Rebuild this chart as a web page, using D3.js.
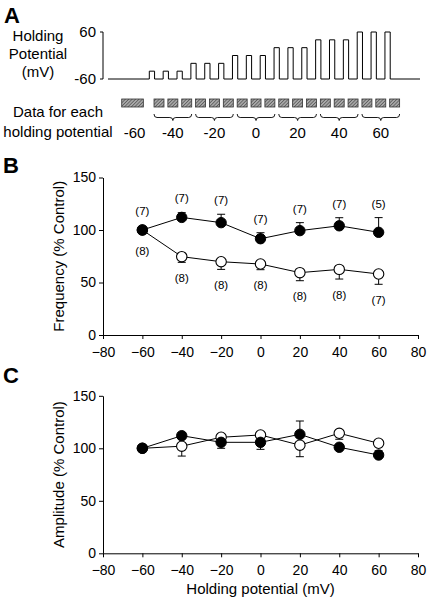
<!DOCTYPE html>
<html>
<head>
<meta charset="utf-8">
<script src="https://cdn.jsdelivr.net/npm/d3@7"></script>
<style>
  html, body { margin: 0; padding: 0; background: #fff; }
  svg { display: block; }
  text { font-family: "Liberation Sans", Arial, Helvetica, sans-serif; fill: #000; }
</style>
</head>
<body>
<svg id="chart" width="430" height="599"></svg>
<script>
// ---------------- DATA ----------------
const potentials = [-60, -40, -20, 0, 20, 40, 60];
const xTicks = [-80, -60, -40, -20, 0, 20, 40, 60, 80];
const yTicks = [0, 50, 100, 150];

// Panel A: protocol
const protocolTicks = [-60, 60];
const pulseLevels = [-40, -40, -40, -20, -20, -20, 0, 0, 0, 20, 20, 20, 40, 40, 40, 60, 60, 60];
const groupLabels = ["-60", "-40", "-20", "0", "20", "40", "60"];

// Panel B: frequency (% control)
const freqFilled = [100, 112, 107, 91.7, 99.4, 104, 97.8];
const freqFilledErr = [0, 4.5, 8, 5.7, 7.6, 7.7, 14];
const freqOpen = [100, 74.6, 69.8, 67.6, 59.4, 62.5, 58.1];
const freqOpenErr = [0, -5.4, -7.3, -5.4, -7.7, -9.2, -9.8];
const nFilled = [7, 7, 7, 7, 7, 7, 5];
const nOpen = [8, 8, 8, 8, 8, 8, 7];

// Panel C: amplitude (% control)
const ampFilled = [100, 112, 105.7, 105.7, 113.3, 101, 93.6];
const ampFilledErr = [0, 3, -5.7, -6.7, 12.7, 0, 4.1];
const ampOpen = [100, 102, 110.5, 112.7, 103, 114.3, 104.8];
const ampOpenErr = [0, -9.4, 0, 0, -11, -5.7, 0];

// ---------------- DRAW ----------------
const svg = d3.select("#chart");
const R = 5.2;

// panel letters
[["A", 4, 23], ["B", 3, 173], ["C", 3, 383]].forEach(([t, x, y]) => {
  svg.append("text").attr("x", x).attr("y", y)
    .style("font-size", "22px").style("font-weight", "bold").text(t);
});

// ===== Panel A =====
const yA = d3.scaleLinear().domain([-60, 60]).range([79, 32]);
const tA = d3.scaleLinear().domain([0, 18]).range([149.3, 398.8]);
const traceStart = -2.98, traceEnd = 19.53, pulseW = 0.38;

// label
const holdLines = ["Holding", "Potential", "(mV)"];
svg.append("g").selectAll("text").data(holdLines).join("text")
  .attr("x", 38).attr("y", (d, i) => 41 + i * 18)
  .attr("text-anchor", "middle").style("font-size", "15px").text(d => d);

// bracket axis
const gA = svg.append("g");
gA.append("path")
  .attr("d", `M${100},${yA(60)}H103V${yA(-60)}H100`)
  .attr("fill", "none").attr("stroke", "#000").attr("stroke-width", 1);
gA.selectAll("text.tk").data(protocolTicks).join("text")
  .attr("x", 96).attr("y", d => yA(d)).attr("dy", "0.35em")
  .attr("text-anchor", "end").style("font-size", "15px").text(d => d);

// trace
const tracePts = [[traceStart, -60]];
pulseLevels.forEach((lv, i) => {
  tracePts.push([i, -60], [i, lv], [i + pulseW, lv], [i + pulseW, -60]);
});
tracePts.push([traceEnd, -60]);
svg.append("path")
  .attr("d", d3.line().x(d => tA(d[0])).y(d => yA(d[1]))(tracePts))
  .attr("fill", "none").attr("stroke", "#000").attr("stroke-width", 1);

// data label
svg.append("g").selectAll("text").data(["Data for each", "holding potential"]).join("text")
  .attr("x", 58).attr("y", (d, i) => 117 + i * 20)
  .attr("text-anchor", "middle").style("font-size", "15px").text(d => d);

// hatch pattern
const defs = svg.append("defs");
const pat = defs.append("pattern").attr("id", "hatch").attr("patternUnits", "userSpaceOnUse")
  .attr("width", 2.4).attr("height", 2.4).attr("patternTransform", "rotate(45)");
pat.append("rect").attr("width", 2.4).attr("height", 2.4).attr("fill", "#a8a8a8");
pat.append("line").attr("x1", 0).attr("y1", 0).attr("x2", 0).attr("y2", 2.4)
  .attr("stroke", "#3a3a3a").attr("stroke-width", 1.1);

const boxTop = 99, boxH = 8;
// control box (-60)
svg.append("rect").attr("x", tA(-1.99)).attr("y", boxTop)
  .attr("width", tA(-0.43) - tA(-1.99)).attr("height", boxH)
  .attr("fill", "url(#hatch)").attr("stroke", "#333").attr("stroke-width", 0.8);
// boxes after each pulse
svg.append("g").selectAll("rect").data(pulseLevels).join("rect")
  .attr("x", (d, i) => tA(i + 0.34)).attr("y", boxTop)
  .attr("width", tA(0.72) - tA(0)).attr("height", boxH)
  .attr("fill", "url(#hatch)").attr("stroke", "#333").attr("stroke-width", 0.8);

// braces
const groups = d3.range(6);
function brace(x0, x1) {
  const y0 = 114, y1 = 117.5, y2 = 120.5, xm = (x0 + x1) / 2;
  return `M${x0},${y0}Q${x0},${y1} ${x0 + 3},${y1}L${xm - 3},${y1}Q${xm},${y1} ${xm},${y2}` +
         `Q${xm},${y1} ${xm + 3},${y1}L${x1 - 3},${y1}Q${x1},${y1} ${x1},${y0}`;
}
svg.append("g").selectAll("path").data(groups).join("path")
  .attr("d", g => brace(tA(3 * g + 0.34), tA(3 * g + 2 + 0.34 + 0.72)))
  .attr("fill", "none").attr("stroke", "#000").attr("stroke-width", 0.9);

// group labels
const labelX = (d, i) => i === 0 ? (tA(-1.99) + tA(-0.43)) / 2 + 2
  : (tA(3 * (i - 1) + 0.34) + tA(3 * (i - 1) + 2 + 0.34 + 0.72)) / 2;
svg.append("g").selectAll("text").data(groupLabels).join("text")
  .attr("x", labelX).attr("y", 138).attr("text-anchor", "middle")
  .style("font-size", "15px").text(d => d);

// ===== Panels B & C =====
const x = d3.scaleLinear().domain([-80, 80]).range([103, 418]);

function panel(yBottom, yTop, filled, filledErr, open, openErr, yTitle, nF, nO, xTitle) {
  const y = d3.scaleLinear().domain([0, 150]).range([yBottom, yTop]);
  const g = svg.append("g");

  const xAxis = g.append("g").attr("transform", `translate(0,${yBottom})`)
    .call(d3.axisBottom(x).tickValues(xTicks).tickSize(4).tickSizeOuter(0).tickPadding(8));
  const yAxis = g.append("g").attr("transform", `translate(103,0)`)
    .call(d3.axisLeft(y).tickValues(yTicks).tickSize(4).tickSizeOuter(0).tickPadding(3));
  [xAxis, yAxis].forEach(a => {
    a.selectAll("text").style("font-size", "14px").style("font-family", "Liberation Sans, Arial, sans-serif").attr("fill", "#000");
    a.selectAll("line,path").attr("stroke", "#000").attr("stroke-width", 1);
  });

  g.append("text").attr("transform", `translate(64,${(yBottom + yTop) / 2}) rotate(-90)`)
    .attr("text-anchor", "middle").style("font-size", "15px").text(yTitle);
  if (xTitle) {
    g.append("text").attr("x", (x(-80) + x(80)) / 2).attr("y", 594)
      .attr("text-anchor", "middle").style("font-size", "15px").text(xTitle);
  }

  const line = d3.line().x((d, i) => x(potentials[i])).y(d => y(d));
  g.append("path").attr("d", line(open)).attr("fill", "none").attr("stroke", "#000").attr("stroke-width", 1);
  g.append("path").attr("d", line(filled)).attr("fill", "none").attr("stroke", "#000").attr("stroke-width", 1);

  function errBars(vals, errs) {
    const data = vals.map((v, i) => ({ p: potentials[i], v, e: errs[i] })).filter(d => d.e !== 0);
    const eg = g.append("g").attr("stroke", "#000").attr("stroke-width", 1);
    eg.selectAll("line.v").data(data).join("line")
      .attr("x1", d => x(d.p)).attr("x2", d => x(d.p))
      .attr("y1", d => y(d.v)).attr("y2", d => y(d.v + d.e));
    eg.selectAll("line.c").data(data).join("line")
      .attr("x1", d => x(d.p) - 4).attr("x2", d => x(d.p) + 4)
      .attr("y1", d => y(d.v + d.e)).attr("y2", d => y(d.v + d.e));
  }
  errBars(open, openErr);
  errBars(filled, filledErr);

  g.append("g").selectAll("circle").data(open).join("circle")
    .attr("cx", (d, i) => x(potentials[i])).attr("cy", d => y(d)).attr("r", R)
    .attr("fill", "#fff").attr("stroke", "#000").attr("stroke-width", 1.1);
  g.append("g").selectAll("circle").data(filled).join("circle")
    .attr("cx", (d, i) => x(potentials[i])).attr("cy", d => y(d)).attr("r", R)
    .attr("fill", "#000").attr("stroke", "#000").attr("stroke-width", 1);

  if (nF) {
    g.append("g").selectAll("text").data(nF).join("text")
      .attr("x", (d, i) => x(potentials[i]))
      .attr("y", (d, i) => Math.min(y(filled[i] + filledErr[i]), y(filled[i]) - R) - 14)
      .attr("dy", "0.35em").attr("text-anchor", "middle").style("font-size", "11.5px")
      .text(d => `(${d})`);
  }
  if (nO) {
    g.append("g").selectAll("text").data(nO).join("text")
      .attr("x", (d, i) => x(potentials[i]))
      .attr("y", (d, i) => Math.max(y(open[i] + openErr[i]), y(open[i]) + R) + 15.5)
      .attr("dy", "0.35em").attr("text-anchor", "middle").style("font-size", "11.5px")
      .text(d => `(${d})`);
  }
}

panel(335, 177.5, freqFilled, freqFilledErr, freqOpen, freqOpenErr, "Frequency (% Control)", nFilled, nOpen, null);
panel(553.3, 395.8, ampFilled, ampFilledErr, ampOpen, ampOpenErr, "Amplitude (% Control)", null, null, "Holding potential (mV)");
</script>
</body>
</html>
